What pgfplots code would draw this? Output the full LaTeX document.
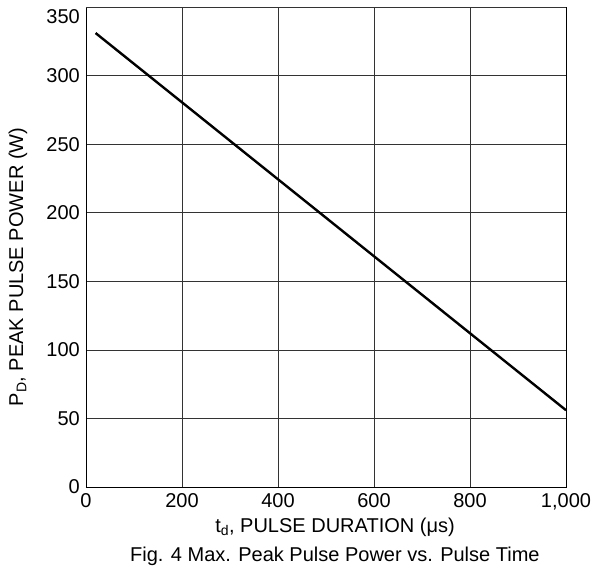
\documentclass[border=0pt]{standalone}
\usepackage{pgfplots}
\pgfplotsset{compat=1.18}
\usepackage{fontspec}
\setmainfont{Liberation Sans}
\begin{document}
\begin{tikzpicture}
\useasboundingbox (-86pt,-84pt) rectangle (506pt,487pt);
\begin{axis}[
  at={(0pt,0pt)}, anchor=south west,
  scale only axis,
  width=480pt, height=480pt,
  xmin=0, xmax=1000, ymin=0, ymax=350,
  xtick={0,200,400,600,800,1000},
  ytick={0,50,100,150,200,250,300},
  extra y ticks={350},
  extra y tick style={yticklabel style={yshift=-10pt}},
  /pgf/number format/assume math mode=true,
  /pgf/number format/1000 sep={,},
  scaled ticks=false,
  grid=major,
  major grid style={black!80, line width=0.7pt},
  axis line style={black, line width=0.9pt},
  major tick length=0pt,
  tick label style={font=\fontsize{20}{24}\selectfont, inner sep=0pt},
  xticklabel style={anchor=base, yshift=-20pt},
  yticklabel style={anchor=east, xshift=-6pt},
]
\addplot[black, line width=2.4pt] coordinates {(20,331) (1000,56)};
\end{axis}
\node[font=\fontsize{20}{24}\selectfont, anchor=base, inner sep=0pt] at (249pt,-45pt) {t\textsubscript{d}, PULSE DURATION (μs)};
\node[font=\fontsize{20}{24}\selectfont, anchor=base west, inner sep=0pt] at (44pt,-74pt) {Fig. 4 Max. Peak Pulse Power vs. Pulse Time};
\node[font=\fontsize{20}{24}\selectfont, rotate=90, anchor=center, inner sep=0pt] at (-68pt,220pt) {P\textsubscript{D}, PEAK PULSE POWER (W)};
\end{tikzpicture}
\end{document}
